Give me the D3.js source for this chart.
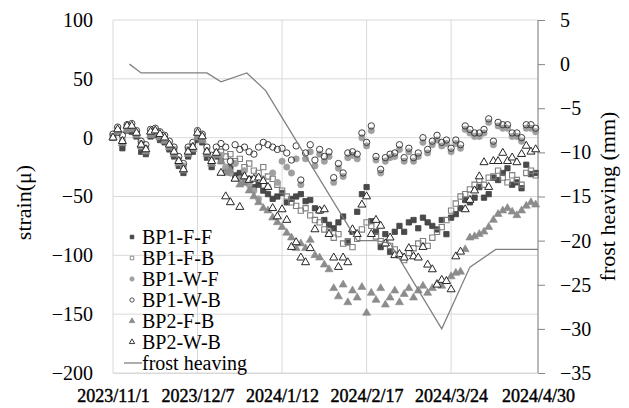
<!DOCTYPE html>
<html><head><meta charset="utf-8">
<script src="https://cdn.jsdelivr.net/npm/d3@7"></script>
<style>
body{margin:0;background:#fff}
svg{display:block}
text{font-family:"Liberation Serif","Times New Roman",serif;fill:#000}
</style>
</head><body>
<svg id="c" width="629" height="408"></svg>
<script>
// ---------- data ----------
const xTickLabels = ["2023/11/1","2023/12/7","2024/1/12","2024/2/17","2024/3/24","2024/4/30"];
const strainTicks = [100,50,0,-50,-100,-150,-200];
const frostTicks = [5,0,-5,-10,-15,-20,-25,-30,-35];
const sampleStart = "2023/11/1";
const sampleStepDays = 2;

const bp1FF = [0,4,-9,6,5,1,-12,-14,1,2,-2,-4,-10,-16,-24,-30,-16,-12,-2,-4,-17,-25,-16,
 -20,-28,-25,-32,-30,-38,-35,-42,-40,-45,
 -48,-52,-50,-47,-55,-52,-50,-48,-54,-53,
 -60,-62,-70,-74,-77,-72,-67,-89,-80,-63,
 -48,-42,-71,-80,-93,-82,-97,-80,-75,-80,
 -72,-70,-77,-68,-72,-75,-78,-70,-82,-68,
 -65,-60,-53,-55,-51,-42,-51,-48,-34,-36,
 -30,-26,-40,-38,-43,-23,-31,-30];
const bp1FB = [1,6,-4,9,8,3,-8,-11,3,5,1,-2,-8,-13,-20,-27,-13,-9,1,-2,-13,-22,-14,
 -12,-16,-14,-20,-18,-25,-22,-28,-30,-25,
 -33,-35,-40,-45,-50,-55,-58,-62,-60,-66,
 -70,-72,-78,-80,-85,-82,-90,-88,-93,-86,
 -78,-72,-75,-84,-88,-90,-92,-95,-100,-104,
 -98,-94,-90,-88,-92,-85,-80,-76,-70,-62,
 -56,-50,-48,-44,-40,-36,-40,-34,-33,-28,
 -34,-38,-32,-36,-40,-30,-28,-32];
const bp1WF = [1,5,-2,7,8,4,-5,-9,4,4,2,-1,-6,-10,-19,-24,-10,-7,2,1,-11,-18,-13,
 -15,-25,-30,-22,-35,-28,-40,-45,-52,-35,
 -42,-30,-38,-20,-25,-30,-18,-40,-18,-12,
 -24,-14,-20,-16,-38,-26,-33,-17,-15,-18,
 0,-7,6,-19,-30,-20,-17,-16,-10,-20,
 -12,-20,-16,-4,-13,-6,-2,-7,-5,-12,
 -5,-9,7,4,1,1,4,13,-6,10,
 8,8,1,1,-3,8,8,5];
const bp1WB = [3,9,2,11,12,6,-3,-6,7,8,5,2,-3,-8,-16,-22,-8,-4,6,3,-8,-15,-8,
 -5,-8,-20,-6,-10,-8,-12,-14,-8,-4,
 -6,-8,-10,-9,-13,-19,-7,-36,-13,-6,
 -19,-10,-16,-12,-34,-22,-30,-13,-12,-14,
 4,-4,10,-16,-27,-17,-14,-13,-6,-17,
 -9,-17,-13,0,-10,-3,2,-4,-2,-9,
 -2,-6,10,7,4,4,7,16,-3,13,
 11,11,4,4,0,11,11,8];
const bp2FB = [0,5,-5,7,7,2,-7,-12,2,3,0,-3,-8,-14,-22,-28,-14,-10,0,-2,-14,-22,-15,
 -20,-30,-28,-35,-40,-38,-45,-50,-55,-60,
 -62,-68,-72,-76,-81,-85,-94,-90,-94,-87,
 -100,-102,-108,-112,-128,-135,-125,-140,-130,-136,
 -127,-149,-132,-138,-128,-142,-136,-130,-140,-133,
 -128,-136,-130,-126,-132,-128,-124,-126,-122,-118,
 -115,-114,-95,-85,-84,-82,-80,-76,-70,-65,
 -62,-60,-63,-66,-62,-58,-55,-57];
const bp2WB = [0,7,-3,10,10,4,-6,-10,5,6,3,0,-6,-12,-20,-27,-12,-8,4,1,-12,-20,-13,
 -30,-50,-55,-35,-59,-33,-36,-35,-34,-37,
 -42,-60,-67,-61,-70,-93,-89,-102,-106,-94,
 -78,-62,-61,-82,-102,-110,-102,-106,-78,-82,
 -57,-50,-82,-70,-75,-90,-85,-100,-99,-102,
 -94,-101,-102,-93,-108,-112,-125,-121,-122,-129,
 -101,-97,-61,-53,-45,-33,-21,-42,-20,-20,
 -13,-20,-17,-21,-14,-7,-12,-10];

const frostDates = ["2023/11/8","2023/11/13","2023/12/11","2023/12/17","2023/12/28","2024/1/5","2024/2/13","2024/2/21","2024/2/27","2024/3/20","2024/4/1","2024/4/12","2024/4/30"];
const frostValues = [0,-1,-1,-2,-1,-3,-20,-20,-20.3,-30,-23,-21,-21];

const seriesNames = ["BP1-F-F","BP1-F-B","BP1-W-F","BP1-W-B","BP2-F-B","BP2-W-B"];
// ---------- drawing ----------
const SERIF = '"Liberation Serif","Times New Roman",serif';
const parse = d3.timeParse("%Y/%m/%d");
const L = 113, R = 538, T = 20, B = 373;
const svg = d3.select("#c");

const x = d3.scaleTime().domain([parse("2023/11/1"), parse("2024/4/30")]).range([L, R]);
const y = d3.scaleLinear().domain([-200, 100]).range([B, T]);
const y2 = d3.scaleLinear().domain([-35, 5]).range([B, T]);

const start = parse(sampleStart);
const dateAt = i => d3.timeDay.offset(start, i * sampleStepDays);

// gridlines
const grid = svg.append("g");
grid.selectAll("line.h").data(strainTicks).join("line")
  .attr("x1", L).attr("x2", R).attr("y1", d => y(d)).attr("y2", d => y(d))
  .attr("stroke", "#d9d9d9").attr("stroke-width", 1);
grid.selectAll("line.v").data(xTickLabels.map(parse)).join("line")
  .attr("x1", d => x(d)).attr("x2", d => x(d)).attr("y1", T).attr("y2", B)
  .attr("stroke", "#d9d9d9").attr("stroke-width", 1);

function styleAxisText(g, size) {
  g.attr("font-family", SERIF).attr("font-size", size);
  g.selectAll("text").attr("font-family", SERIF).attr("font-size", size)
    .style("font-family", SERIF).style("font-size", size + "px").attr("fill", "#000");
}

// left axis labels
const yAxis = d3.axisLeft(y).tickValues(strainTicks).tickSize(0).tickPadding(20);
const gy = svg.append("g").attr("transform", `translate(${L},0)`).call(yAxis);
gy.select(".domain").remove();
styleAxisText(gy, 20);

// right axis
const yAxis2 = d3.axisRight(y2).tickValues(frostTicks).tickSize(7).tickPadding(15).tickFormat(d3.format("d"));
const gy2 = svg.append("g").attr("transform", `translate(${R},0)`).call(yAxis2);
gy2.select(".domain").attr("stroke", "#868686").attr("d", `M0,${T}V${B}`);
gy2.selectAll(".tick line").attr("stroke", "#868686");
styleAxisText(gy2, 20);

// bottom axis
const xAxis = d3.axisBottom(x).tickValues(xTickLabels.map(parse)).tickSize(0).tickPadding(16)
  .tickFormat((d, i) => xTickLabels[i]);
const gx = svg.append("g").attr("transform", `translate(0,${B})`).call(xAxis);
gx.select(".domain").attr("stroke", "#d9d9d9");
styleAxisText(gx, 18);
gx.selectAll("text").attr("stroke", "#000").attr("stroke-width", 0.45);

// axis titles
svg.append("text").attr("transform", `translate(31,${(T + B) / 2 + 6}) rotate(-90)`)
  .attr("text-anchor", "middle").style("font-size", "22px").text("strain(μ)");
svg.append("text").attr("transform", `translate(615,${(T + B) / 2}) rotate(-90)`)
  .attr("text-anchor", "middle").style("font-size", "22px").text("frost heaving (mm)");

// markers
const styles = [
  {data: bp1FF, sym: d3.symbolSquare, size: 28, fill: "#4a4a4a", stroke: "#404040", sw: 0.8},
  {data: bp1FB, sym: d3.symbolSquare, size: 28, fill: "none", stroke: "#7f7f7f", sw: 1.1},
  {data: bp1WF, sym: d3.symbolCircle, size: 32, fill: "#a0a0a0", stroke: "#a0a0a0", sw: 0.6},
  {data: bp1WB, sym: d3.symbolCircle, size: 32, fill: "none", stroke: "#404040", sw: 1},
  {data: bp2FB, sym: d3.symbolTriangle, size: 28, fill: "#8c8c8c", stroke: "#8c8c8c", sw: 0.6},
  {data: bp2WB, sym: d3.symbolTriangle, size: 28, fill: "#ffffff", stroke: "#262626", sw: 1}
];
styles.forEach(s => {
  const pts = s.data.map((v, i) => ({d: dateAt(i), v})).filter(p => p.v !== null);
  svg.append("g").selectAll("path").data(pts).join("path")
    .attr("d", d3.symbol().type(s.sym).size(s.size))
    .attr("transform", p => `translate(${x(p.d)},${y(p.v)})`)
    .attr("fill", s.fill).attr("stroke", s.stroke).attr("stroke-width", s.sw);
});

// frost heaving line
const frost = frostDates.map((d, i) => ({d: parse(d), v: frostValues[i]}));
svg.append("path").datum(frost)
  .attr("d", d3.line().x(p => x(p.d)).y(p => y2(p.v)))
  .attr("fill", "none").attr("stroke", "#808080").attr("stroke-width", 1.3);

// legend
const lg = svg.append("g");
const rowY = [237, 258, 279, 300, 321, 342];
styles.forEach((s, i) => {
  lg.append("path").attr("d", d3.symbol().type(s.sym).size(s.size * 0.45))
    .attr("transform", `translate(132,${rowY[i]})`)
    .attr("fill", s.fill === "none" ? "#fff" : s.fill).attr("stroke", s.stroke).attr("stroke-width", 0.9);
  lg.append("text").attr("x", 142).attr("y", rowY[i] + 7).style("font-size", "20px").text(seriesNames[i]);
});
lg.append("line").attr("x1", 124).attr("x2", 142).attr("y1", 363).attr("y2", 363)
  .attr("stroke", "#808080").attr("stroke-width", 1.3);
lg.append("text").attr("x", 142).attr("y", 370).style("font-size", "20px").text("frost heaving");
</script>
</body></html>
